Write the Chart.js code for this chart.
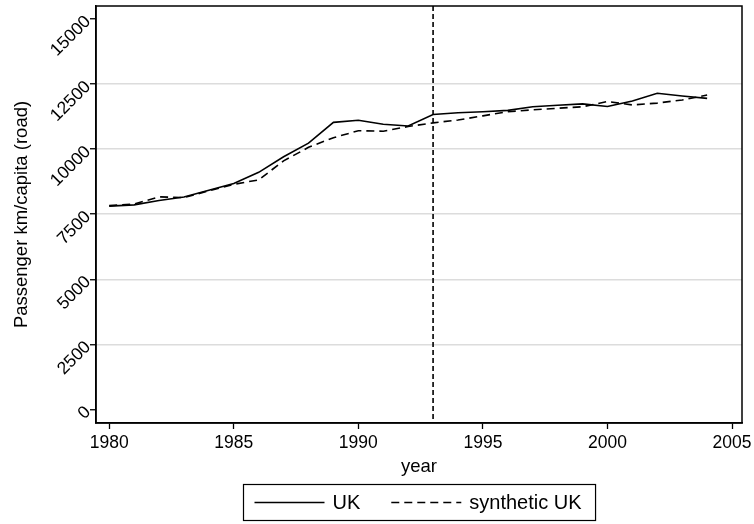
<!DOCTYPE html>
<html>
<head>
<meta charset="utf-8">
<script src="https://cdn.jsdelivr.net/npm/chart.js@4/dist/chart.umd.min.js"></script>
<style>
html,body{margin:0;padding:0;background:#fff;}
#wrap{width:754px;height:524px;position:relative;}
</style>
</head>
<body>
<div id="wrap"><canvas id="c" width="754" height="524"></canvas></div>
<script>
const years = [1980,1981,1982,1983,1984,1985,1986,1987,1988,1989,1990,1991,1992,1993,1994,1995,1996,1997,1998,1999,2000,2001,2002,2003,2004];
const ukValues = [7810,7860,8030,8160,8420,8680,9110,9710,10230,11030,11110,10960,10890,11330,11400,11440,11490,11630,11690,11740,11640,11850,12150,12040,11950];
const syntheticValues = [7830,7890,8170,8140,8400,8650,8820,9550,10070,10440,10710,10690,10870,11010,11120,11280,11440,11510,11570,11630,11830,11700,11770,11890,12080];
const xTickLabels = [1980,1985,1990,1995,2000,2005];
const yTickLabels = [0,2500,5000,7500,10000,12500,15000];
const seriesNames = ['UK','synthetic UK'];
const treatmentYear = 1993;
const xTitle = 'year';
const yTitle = 'Passenger km/capita (road)';

const FONT = "'Liberation Sans', Arial, sans-serif";

const framePlugin = {
  id: 'frame',
  afterDatasetsDraw(chart) {
    const {ctx, chartArea} = chart;
    const xs = chart.scales.x;
    ctx.save();
    const px = xs.getPixelForValue(treatmentYear);
    ctx.strokeStyle = '#000';
    ctx.lineWidth = 1.6;
    ctx.setLineDash([5,3]);
    ctx.beginPath();
    ctx.moveTo(px, chartArea.top);
    ctx.lineTo(px, chartArea.bottom);
    ctx.stroke();
    ctx.setLineDash([]);
    ctx.lineWidth = 1.5;
    ctx.strokeRect(chartArea.left, chartArea.top, chartArea.right - chartArea.left, chartArea.bottom - chartArea.top);
    ctx.restore();
  },
  afterDraw(chart) {
    // boxed legend below the x-axis title, centred on the plot area
    const ctx = chart.ctx;
    const ca = chart.chartArea;
    const lineW = 70, textGap = 8, itemGap = 31, padL = 11, padR = 14;
    ctx.save();
    ctx.font = '20px ' + FONT;
    const items = chart.data.datasets.map(ds => ({ds, tw: ctx.measureText(ds.label).width}));
    const inner = items.reduce((s, it) => s + lineW + textGap + it.tw, 0) + itemGap * (items.length - 1);
    const total = padL + inner + padR;
    const left = Math.round((ca.left + ca.right) / 2 - total / 2) + 0.5;
    const top = chart.height - 39.5, bottom = chart.height - 3.5;
    const cy = (top + bottom) / 2;
    ctx.strokeStyle = '#000';
    ctx.lineWidth = 1.2;
    ctx.strokeRect(left, top, total, bottom - top);
    let x = left + padL;
    ctx.fillStyle = '#000';
    ctx.textBaseline = 'middle';
    ctx.textAlign = 'left';
    items.forEach((it, i) => {
      ctx.lineWidth = it.ds.borderWidth;
      ctx.setLineDash(it.ds.borderDash || []);
      ctx.beginPath();
      ctx.moveTo(x, cy);
      ctx.lineTo(x + lineW, cy);
      ctx.stroke();
      ctx.setLineDash([]);
      x += lineW + textGap;
      ctx.fillText(it.ds.label, x, cy + 1);
      x += it.tw + itemGap;
    });
    ctx.restore();
  }
};

new Chart(document.getElementById('c'), {
  type: 'line',
  data: {
    datasets: [
      {
        label: seriesNames[0],
        data: years.map((y, i) => ({x: y, y: ukValues[i]})),
        borderColor: '#000',
        backgroundColor: '#000',
        borderWidth: 1.6,
        pointRadius: 0,
        tension: 0
      },
      {
        label: seriesNames[1],
        data: years.map((y, i) => ({x: y, y: syntheticValues[i]})),
        borderColor: '#000',
        backgroundColor: '#000',
        borderWidth: 1.6,
        borderDash: [8,5],
        pointRadius: 0,
        tension: 0
      }
    ]
  },
  options: {
    responsive: false,
    devicePixelRatio: 1,
    animation: false,
    layout: {padding: {top: 6, right: 12, left: 0, bottom: 41.5}},
    plugins: {
      tooltip: {enabled: false},
      legend: {display: false}
    },
    scales: {
      x: {
        type: 'linear',
        min: 1979.47,
        max: 2005.4,
        afterBuildTicks(scale) { scale.ticks = xTickLabels.map(v => ({value: v})); },
        afterFit(scale) { scale.height = 59.5; scale.paddingLeft = 0; scale.paddingRight = 0; },
        ticks: {
          color: '#000',
          font: {family: FONT, size: 17.5},
          padding: 4,
          maxRotation: 0,
          autoSkip: false,
          callback: v => String(v)
        },
        grid: {drawOnChartArea: false, drawTicks: true, tickLength: 6, tickColor: '#000', tickWidth: 1.3},
        border: {display: true, color: '#000', width: 1.5},
        title: {display: true, text: xTitle, color: '#000', font: {family: FONT, size: 18.5}, padding: {top: 0, bottom: 4}}
      },
      y: {
        type: 'linear',
        min: -520,
        max: 15500,
        afterBuildTicks(scale) { scale.ticks = yTickLabels.map(v => ({value: v})); },
        afterFit(scale) { scale.width = 96; scale.paddingTop = 0; scale.paddingBottom = 0; },
        ticks: {
          color: '#000',
          font: {family: FONT, size: 17.5},
          padding: 2,
          minRotation: 45,
          maxRotation: 45,
          autoSkip: false,
          callback: v => String(v)
        },
        grid: {
          color: ctx => (ctx.tick && (ctx.tick.value === 0 || ctx.tick.value === 15000)) ? 'rgba(0,0,0,0)' : '#dcdcdc',
          lineWidth: 1.5,
          drawTicks: true,
          tickLength: 6,
          tickColor: '#000',
          tickWidth: 1.3
        },
        border: {display: true, color: '#000', width: 1.5},
        title: {display: true, text: yTitle, color: '#000', font: {family: FONT, size: 18.5}, padding: {top: 11, bottom: 0}}
      }
    }
  },
  plugins: [framePlugin]
});
</script>
</body>
</html>
